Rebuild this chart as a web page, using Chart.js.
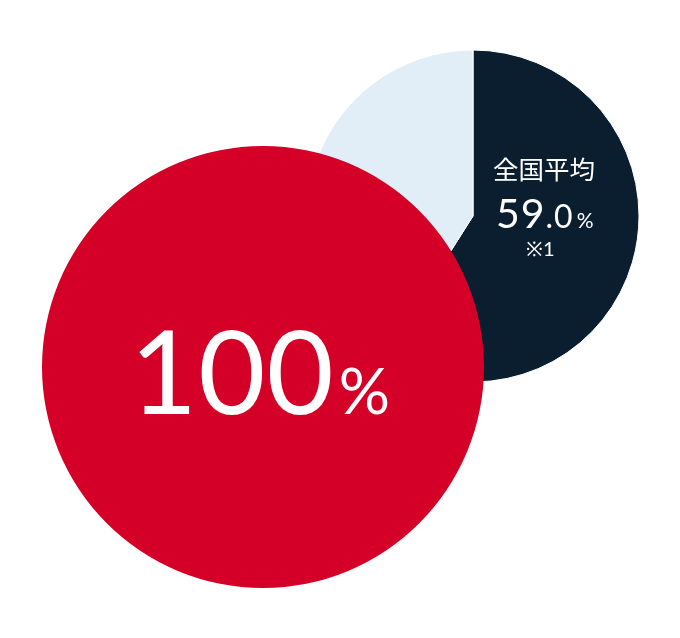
<!DOCTYPE html>
<html>
<head>
<meta charset="utf-8">
<script src="https://cdn.jsdelivr.net/npm/chart.js@4/dist/chart.umd.min.js"></script>
<style>
	html, body { margin:0; padding:0; background:#fff; }
	#wrap { position:relative; width:680px; height:638px; overflow:hidden; }
	canvas { position:absolute; }
	#avgChart { left:307px; top:50px; }
	#ownChart { left:42px; top:146px; }
	.txt { position:absolute; color:#fff; white-space:nowrap; line-height:1; }
	#avgTitle { left:493px; top:155px; font-family:"Noto Sans CJK JP", sans-serif; font-size:25.5px; }
	#avgValue { left:496px; top:192px; font-family:"Lato", sans-serif; }
	#avgValue .big { font-size:41px; letter-spacing:1px; }
	#avgValue .mid { font-size:32px; letter-spacing:1px; }
	#avgValue .pct { font-size:21px; margin-left:3px; }
	#avgNote { left:526px; top:238px; font-family:"Lato", sans-serif; font-size:20px; }
	#ownValue { left:130px; top:312px; font-family:"Lato", sans-serif; }
	#ownValue .big { font-size:116px; letter-spacing:1px; }
	#ownValue .pct { font-size:64px; margin-left:4px; }
</style>
</head>
<body>
<div id="wrap">
	<canvas id="avgChart" width="332" height="332"></canvas>
	<canvas id="ownChart" width="442" height="442"></canvas>
	<div class="txt" id="avgTitle"></div>
	<div class="txt" id="avgValue"></div>
	<div class="txt" id="avgNote"></div>
	<div class="txt" id="ownValue"></div>
</div>
<script>
	// national average (small pie, top right)
	var avgLabels = ['全国平均', 'その他'];
	var avgValues = [59.0, 41.0];
	var avgColors = ['#0b1e30', '#e1eef8'];
	var avgNote = '※1';

	// own rate (big red circle)
	var ownLabels = ['当社'];
	var ownValues = [100];
	var ownColors = ['#d40028'];

	var baseOptions = {
		responsive: false,
		animation: false,
		events: [],
		layout: { padding: 0 },
		plugins: { legend: { display: false }, tooltip: { enabled: false } }
	};

	new Chart(
		document.getElementById('avgChart').getContext('2d'),
		{
			type: 'pie',
			data: {
				labels: avgLabels,
				datasets: [ { data: avgValues, backgroundColor: avgColors, borderColor: '#ffffff', borderWidth: 1, radius: 166 } ]
			},
			options: baseOptions
		}
	);

	new Chart(
		document.getElementById('ownChart').getContext('2d'),
		{
			type: 'pie',
			data: {
				labels: ownLabels,
				datasets: [ { data: ownValues, backgroundColor: ownColors, borderWidth: 0, radius: 221 } ]
			},
			options: baseOptions
		}
	);

	//	labels, built from the same arrays
	var avgParts = avgValues[0].toFixed(1).split('.');
	document.getElementById('avgTitle').textContent = avgLabels[0];
	document.getElementById('avgValue').innerHTML =
		'<span class="big">' + avgParts[0] + '</span><span class="mid">.' + avgParts[1] + '</span><span class="pct">%</span>';
	document.getElementById('avgNote').textContent = avgNote;
	document.getElementById('ownValue').innerHTML =
		'<span class="big">' + ownValues[0] + '</span><span class="pct">%</span>';
</script>
</body>
</html>
